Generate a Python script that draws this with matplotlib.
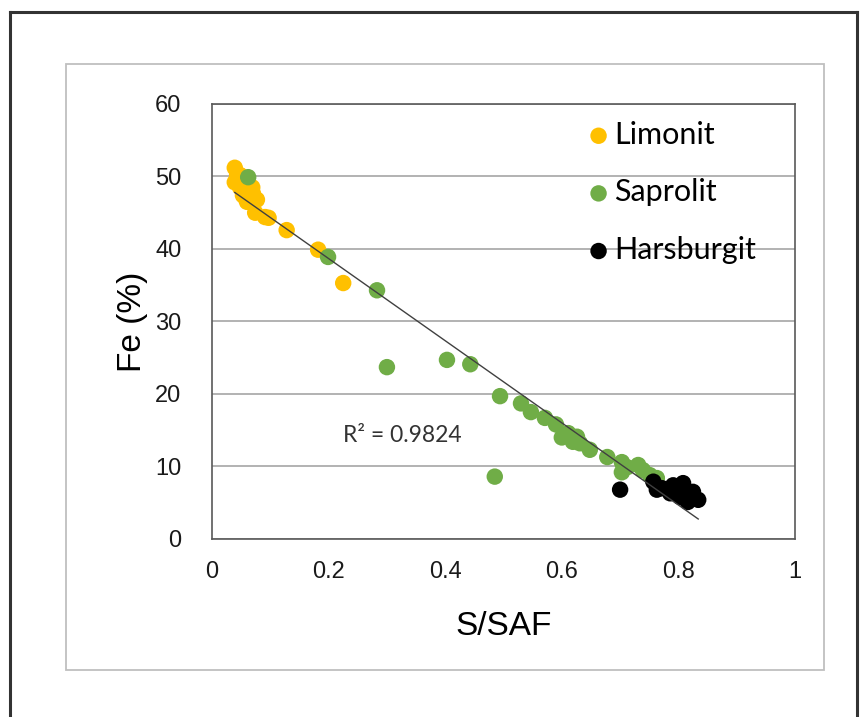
import numpy as np
import matplotlib.pyplot as plt
from matplotlib.lines import Line2D
from matplotlib.patches import Rectangle

# S/SAF vs Fe (%)
limonit_x = [0.039, 0.043, 0.039, 0.048, 0.069, 0.070, 0.053, 0.060, 0.077,
             0.048, 0.058, 0.074, 0.091, 0.097, 0.128, 0.182, 0.225]
limonit_y = [51.2, 50.2, 49.2, 48.5, 48.5, 47.7, 47.4, 46.5, 46.8,
             50.2, 47.0, 45.0, 44.4, 44.3, 42.6, 39.9, 35.3]

saprolit_x = [0.062, 0.199, 0.283, 0.300, 0.403, 0.443, 0.485, 0.494, 0.530,
              0.547, 0.571, 0.590, 0.600, 0.611, 0.619, 0.626, 0.631, 0.648,
              0.678, 0.703, 0.703, 0.712, 0.731, 0.739, 0.751, 0.763]
saprolit_y = [49.9, 38.9, 34.3, 23.7, 24.7, 24.1, 8.6, 19.7, 18.7,
              17.5, 16.7, 15.8, 14.0, 14.6, 13.4, 14.1, 13.2, 12.3,
              11.3, 10.6, 9.2, 9.9, 10.2, 9.5, 8.8, 8.4]

harsburgit_x = [0.700, 0.757, 0.763, 0.772, 0.786, 0.791, 0.803, 0.808, 0.816,
                0.825, 0.834, 0.795, 0.818]
harsburgit_y = [6.8, 7.9, 6.8, 7.0, 6.3, 7.4, 5.8, 7.7, 5.1,
                6.5, 5.4, 6.6, 6.0]

r2_label = "R\u00b2 = 0.9824"

orange = "#FFC000"
green = "#70AD47"

fig = plt.figure(figsize=(8.63, 7.17), dpi=100)

# outer frame and chart area border
fig.add_artist(Line2D([0.0116, 0.0116], [0, 0.9833], color="#333333", lw=2.2,
                      transform=fig.transFigure))
fig.add_artist(Line2D([0.0116, 0.993], [0.9833, 0.9833], color="#333333", lw=2.2,
                      transform=fig.transFigure))
fig.add_artist(Line2D([0.993, 0.993], [0, 0.9833], color="#333333", lw=2.2,
                      transform=fig.transFigure))
fig.add_artist(Rectangle((0.0765, 0.0656), 0.8783, 0.8451, fill=False,
                         edgecolor="#BFBFBF", lw=1.3, transform=fig.transFigure))

ax = fig.add_axes([0.2457, 0.2483, 0.6755, 0.6067])

ax.scatter(limonit_x, limonit_y, s=140, color=orange, edgecolors="none",
           label="Limonit", zorder=3)
ax.scatter(saprolit_x, saprolit_y, s=140, color=green, edgecolors="none",
           label="Saprolit", zorder=3)
ax.scatter(harsburgit_x, harsburgit_y, s=140, color="black", edgecolors="none",
           label="Harsburgit", zorder=3)

# linear trend over all samples
all_x = np.array(limonit_x + saprolit_x + harsburgit_x)
all_y = np.array(limonit_y + saprolit_y + harsburgit_y)
slope, intercept = np.polyfit(all_x, all_y, 1)
fit_x = np.array([all_x.min(), all_x.max()])
ax.plot(fit_x, slope * fit_x + intercept, color="#404040", lw=1.0, zorder=4)

ax.text(0.326, 14.3, r2_label, fontsize=16.5, family="Lato", color="#333333",
        ha="center", va="center")

ax.set_xlim(0, 1)
ax.set_ylim(0, 60)
ax.set_xticks(np.arange(0, 1.01, 0.2))
ax.set_xticklabels(["0", "0.2", "0.4", "0.6", "0.8", "1"])
ax.set_yticks(np.arange(0, 61, 10))
ax.yaxis.grid(True, color="#A6A6A6", lw=1.2)
ax.set_axisbelow(True)
for side in ["left", "right", "top", "bottom"]:
    ax.spines[side].set_color("#595959")
    ax.spines[side].set_linewidth(1.2)
ax.tick_params(length=0, labelsize=17, colors="#404040")
ax.tick_params(axis="x", pad=16)
ax.tick_params(axis="y", pad=22)
for lbl in ax.get_xticklabels() + ax.get_yticklabels():
    lbl.set_family("Liberation Sans")
    lbl.set_color("#1a1a1a")

ax.set_xlabel("S/SAF", fontsize=24, family="Liberation Sans", labelpad=20)
ax.set_ylabel("Fe (%)", fontsize=24, family="Liberation Sans", labelpad=5)

leg = ax.legend(loc="upper left", bbox_to_anchor=(0.608, 1.0), frameon=False,
                prop={"family": "Lato", "size": 22}, handlelength=1.0,
                handletextpad=0.0, labelspacing=0.97, markerscale=1.0,
                borderaxespad=0.15)

fig.savefig("out.png", dpi=100)
